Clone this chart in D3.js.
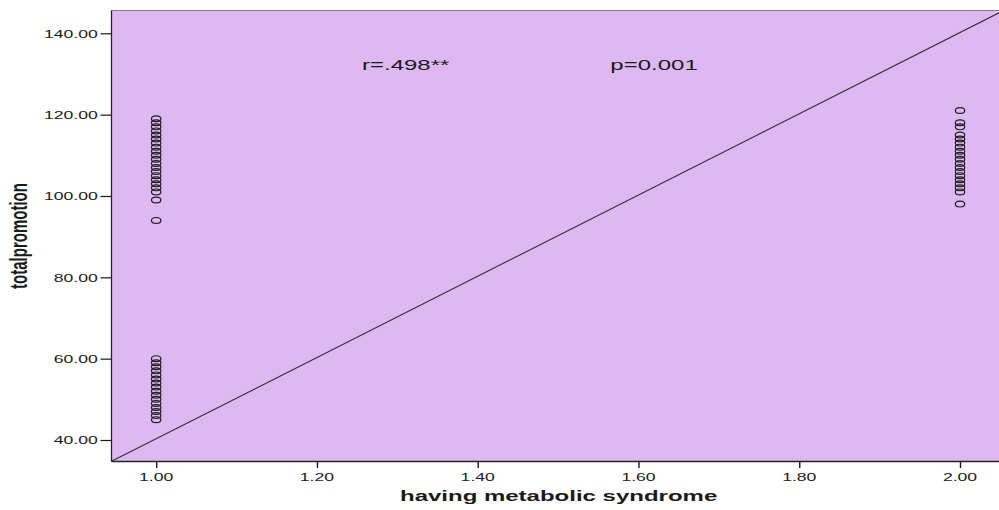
<!DOCTYPE html>
<html>
<head>
<meta charset="utf-8">
<script src="https://cdn.jsdelivr.net/npm/d3@7"></script>
<style>
  html, body { margin: 0; padding: 0; background: #ffffff; }
  svg { display: block; }
  text { font-family: "Liberation Sans", Arial, sans-serif; fill: #1a1a1a; }
</style>
</head>
<body>
<svg id="chart" width="999" height="510"></svg>
<script>
// ---- data ----
const xTicks = [1.00, 1.20, 1.40, 1.60, 1.80, 2.00];
const yTicks = [40, 60, 80, 100, 120, 140];
const xLabel = "having metabolic syndrome";
const yLabel = "totalpromotion";

// totalpromotion values observed in group 1.00
const group1Values = [45, 46, 47, 48, 49, 50, 51, 52, 53, 54, 55, 56, 57, 58, 59, 60,
  94, 99, 101, 102, 103, 104, 105, 106, 107, 108, 109, 110, 111, 112, 113, 114, 115, 116, 117, 118, 119];
// totalpromotion values observed in group 2.00
const group2Values = [98, 101, 102, 103, 104, 105, 106, 107, 108, 109, 110, 111, 112, 113, 114, 115, 117, 118, 121];

// fit line  y = intercept + slope * x
const fitIntercept = -59.6;
const fitSlope = 99.9;

// annotations (placed in data coordinates)
const annotations = [
  { text: "r=.498**", x: 1.256, y: 131 },
  { text: "p=0.001", x: 1.565, y: 131 }
];

// ---- layout ----
const W = 999, H = 510;
const plot = { left: 111.5, top: 10.5, right: 1010, bottom: 461.5 };
const SX = 1.6; // horizontal stretch of the original picture

const xScale = d3.scaleLinear().domain([0.9444, 2.0485]).range([111.5, 999]);
const yScale = d3.scaleLinear().domain([34.71, 145.73]).range([461.5, 10]);

const svg = d3.select("#chart");

// plot background
svg.append("rect")
  .attr("x", plot.left).attr("y", plot.top)
  .attr("width", plot.right - plot.left).attr("height", plot.bottom - plot.top)
  .attr("fill", "#deb8f1");

// top border (grey)
svg.append("line")
  .attr("x1", plot.left).attr("x2", W)
  .attr("y1", plot.top).attr("y2", plot.top)
  .attr("stroke", "#857a8a").attr("stroke-width", 1.2);

svg.append("clipPath").attr("id", "clip")
  .append("rect").attr("x", plot.left).attr("y", plot.top)
  .attr("width", W - plot.left).attr("height", plot.bottom - plot.top);

// fit line
const xd = xScale.domain();
svg.append("line")
  .attr("clip-path", "url(#clip)")
  .attr("x1", xScale(xd[0])).attr("y1", yScale(fitIntercept + fitSlope * xd[0]))
  .attr("x2", xScale(xd[1])).attr("y2", yScale(fitIntercept + fitSlope * xd[1]))
  .attr("stroke", "#333333").attr("stroke-width", 1.1);

// points
const points = [
  ...group1Values.map(v => ({ x: 1, y: v })),
  ...group2Values.map(v => ({ x: 2, y: v }))
];
svg.append("g").selectAll("ellipse").data(points).join("ellipse")
  .attr("cx", d => xScale(d.x)).attr("cy", d => yScale(d.y))
  .attr("rx", 4.7).attr("ry", 2.9)
  .attr("fill", "none").attr("stroke", "#1e1e1e").attr("stroke-width", 1.2);

// helper for horizontally stretched text
function sText(g, str, x, y, anchor, size, weight) {
  return g.append("text")
    .attr("transform", `translate(${x},${y}) scale(${SX},1)`)
    .attr("text-anchor", anchor)
    .attr("font-size", size)
    .attr("font-weight", weight || "normal")
    .text(str);
}

// y axis
const yAxis = d3.axisLeft(yScale).tickValues(yTicks).tickSize(11).tickFormat("");
const gy = svg.append("g").attr("transform", `translate(${plot.left},0)`).call(yAxis);
gy.select(".domain").remove();
gy.selectAll(".tick line").attr("stroke", "#1a1a1a").attr("stroke-width", 1.2);
svg.append("line")
  .attr("x1", plot.left).attr("x2", plot.left)
  .attr("y1", plot.top).attr("y2", plot.bottom)
  .attr("stroke", "#222").attr("stroke-width", 1.3);
yTicks.forEach(t => sText(svg, d3.format(".2f")(t), 97.7, yScale(t) + 4.2, "end", 11));

// x axis
const xAxis = d3.axisBottom(xScale).tickValues(xTicks).tickSize(6.5).tickFormat("");
const gx = svg.append("g").attr("transform", `translate(0,${plot.bottom})`).call(xAxis);
gx.select(".domain").remove();
gx.selectAll(".tick line").attr("stroke", "#1a1a1a").attr("stroke-width", 1.4);
svg.append("line")
  .attr("x1", plot.left).attr("x2", W)
  .attr("y1", plot.bottom).attr("y2", plot.bottom)
  .attr("stroke", "#222").attr("stroke-width", 1.3);
xTicks.forEach(t => sText(svg, d3.format(".2f")(t), xScale(t), 480.5, "middle", 11));

// annotations
annotations.forEach(a => sText(svg, a.text, xScale(a.x), yScale(a.y), "start", 15));

// axis titles
sText(svg, xLabel, 558.6, 501, "middle", 15, "bold");
svg.append("text")
  .attr("transform", `translate(26.5,236) scale(${SX},1) rotate(-90)`)
  .attr("text-anchor", "middle")
  .attr("font-size", 15)
  .attr("font-weight", "bold")
  .text(yLabel);
</script>
</body>
</html>
